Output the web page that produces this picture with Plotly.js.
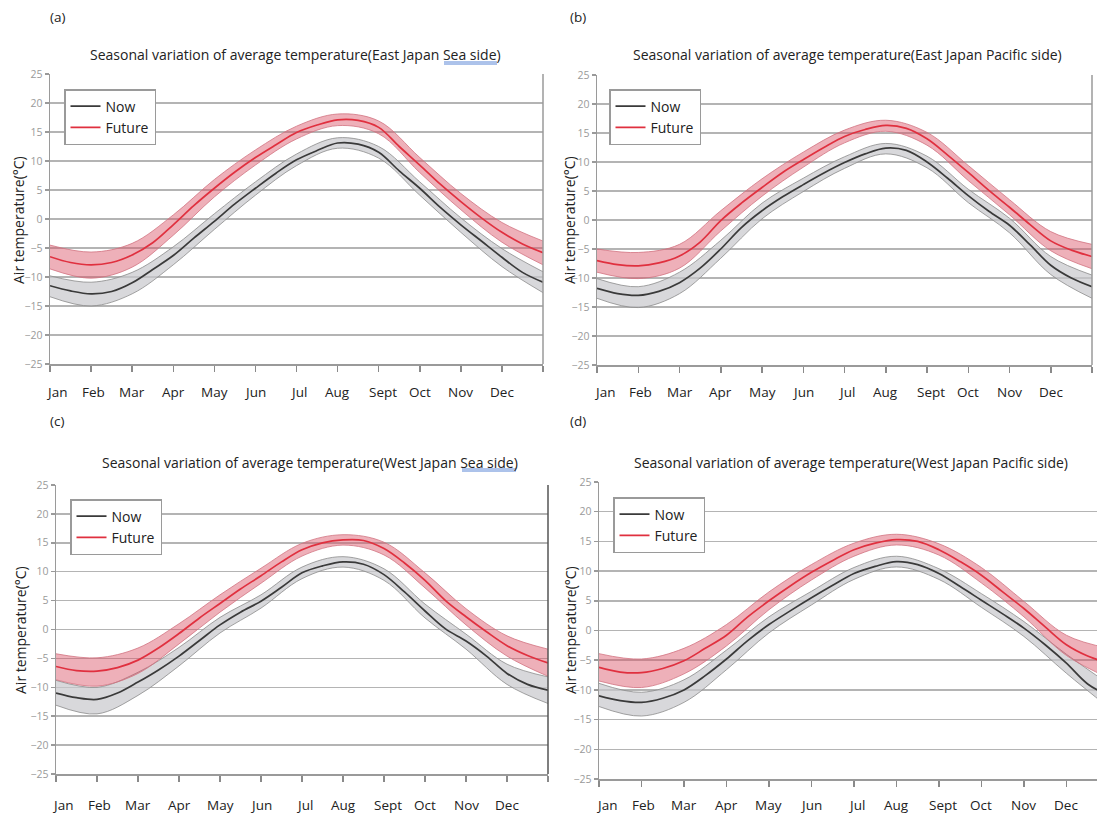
<!DOCTYPE html>
<html><head><meta charset="utf-8">
<script src="https://cdn.plot.ly/plotly-3.0.1.min.js"></script>
<style>html,body{margin:0;padding:0;background:#fff}#chart{width:1097px;height:816px}</style>
</head><body><div id="chart"></div>
<script>
// ---- data ----
const months = ['Jan','Feb','Mar','Apr','May','Jun','Jul','Aug','Sept','Oct','Nov','Dec'];
const monthLabelPos = [0.17,1.05,2,3,4,5,6.05,7,8.1,9,10,11];
const xHalf = [0,0.5,1,1.5,2,2.5,3,3.5,4,4.5,5,5.5,6,6.5,7,7.5,8,8.5,9,9.5,10,10.5,11,11.5,12];
const xMonth = [0,1,2,3,4,5,6,7,8,9,10,11,12];
const yTicks = [-25,-20,-15,-10,-5,0,5,10,15,20,25];

const titles = [
  'Seasonal variation of average temperature(East Japan Sea side)',
  'Seasonal variation of average temperature(East Japan Pacific side)',
  'Seasonal variation of average temperature(West Japan Sea side)',
  'Seasonal variation of average temperature(West Japan Pacific side)'
];
const panelLabels = ['(a)','(b)','(c)','(d)'];
const seriesNames = ['Now','Future'];

// (a) East Japan Sea side
const aNowMean = [-11.5,-12.4,-12.9,-12.5,-11.0,-8.7,-6.3,-3.3,-0.4,2.6,5.3,7.9,10.2,11.8,13.1,12.9,11.5,8.3,5.3,2.0,-1.0,-3.8,-6.6,-9.2,-10.9];
const aNowHi   = [-9.8,-10.9,-9.2,-4.8,0.9,6.4,11.2,14.0,12.5,6.4,0.2,-5.1,-9.1];
const aNowLo   = [-13.4,-15.0,-12.9,-7.9,-1.8,4.1,9.2,12.2,10.5,4.1,-2.3,-8.2,-12.7];
const aFutMean = [-6.5,-7.5,-7.9,-7.5,-6.2,-4.1,-1.0,2.3,5.3,8.1,10.6,12.8,14.9,16.2,17.1,17.0,15.8,12.5,9.3,6.0,3.0,0.2,-2.3,-4.3,-5.8];
const aFutHi   = [-4.5,-5.7,-4.2,0.7,6.8,11.9,16.0,18.1,16.9,10.6,4.4,-0.6,-3.8];
const aFutLo   = [-8.6,-10.2,-8.3,-2.8,3.8,9.3,13.8,16.1,14.7,8.0,1.6,-4.0,-7.9];

// (b) East Japan Pacific side
const bNowMean = [-11.8,-12.7,-13.0,-12.3,-10.8,-8.3,-5.0,-1.3,1.6,4.0,6.1,8.1,9.9,11.4,12.4,12.0,10.0,7.2,4.2,1.5,-0.9,-4.3,-7.8,-10.0,-11.5];
const bNowHi   = [-10.1,-11.5,-9.0,-3.5,2.9,7.2,10.9,13.2,11.0,5.3,0.3,-6.3,-9.5];
const bNowLo   = [-13.5,-15.1,-12.7,-6.6,0.2,4.9,8.9,11.4,9.0,3.0,-2.2,-9.4,-13.5];
const bFutMean = [-7.0,-7.7,-7.9,-7.4,-6.2,-3.8,-0.1,2.9,5.6,8.2,10.4,12.5,14.4,15.6,16.3,15.8,14.0,11.2,8.2,5.1,2.2,-0.8,-3.6,-5.2,-6.3];
const bFutHi   = [-5.0,-5.6,-4.2,1.6,7.1,11.7,15.5,17.2,15.1,9.4,3.5,-2.0,-4.2];
const bFutLo   = [-9.0,-10.1,-8.3,-1.9,4.1,9.1,13.3,15.3,12.9,6.8,0.9,-5.3,-8.4];

// (c) West Japan Sea side
const cNowMean = [-11.0,-11.8,-12.1,-11.0,-9.1,-7.0,-4.6,-1.9,0.8,3.0,4.9,7.3,9.8,11.0,11.7,11.3,9.5,6.5,3.2,0.1,-2.0,-4.6,-7.6,-9.5,-10.5];
const cNowHi   = [-8.8,-10.0,-7.4,-3.1,2.1,6.0,10.8,12.6,10.5,4.4,-0.8,-6.0,-8.2];
const cNowLo   = [-13.1,-14.6,-11.4,-6.3,-0.6,3.7,8.8,10.8,8.5,2.0,-3.4,-9.5,-12.8];
const cFutMean = [-6.4,-7.1,-7.2,-6.6,-5.3,-3.2,-0.7,2.0,4.5,7.0,9.3,11.7,13.8,15.0,15.5,15.4,14.0,11.5,8.5,5.0,2.2,-0.4,-2.8,-4.5,-5.8];
const cFutHi   = [-4.2,-4.9,-3.2,1.0,6.0,10.6,14.9,16.4,15.1,9.8,3.6,-1.1,-3.4];
const cFutLo   = [-8.7,-9.8,-7.6,-2.5,3.0,8.0,12.7,14.6,12.9,7.2,0.8,-4.6,-8.1];

// (d) West Japan Pacific side
const dNowMean = [-11.0,-11.8,-12.1,-11.4,-10.0,-7.6,-4.8,-1.7,1.0,3.3,5.5,7.6,9.6,10.8,11.6,11.1,9.6,7.4,5.1,2.8,0.4,-2.4,-5.5,-9.0,-11.0];
const dNowHi   = [-8.9,-10.4,-8.3,-3.3,2.3,6.6,10.6,12.5,10.4,6.2,1.5,-4.0,-9.0];
const dNowLo   = [-12.8,-14.4,-12.1,-6.6,-0.4,4.3,8.6,10.7,8.6,3.9,-1.0,-7.2,-13.0];
const dFutMean = [-6.2,-7.0,-7.1,-6.4,-5.1,-3.0,-0.8,2.3,5.0,7.5,9.8,11.8,13.6,14.7,15.3,15.0,13.6,11.6,9.3,6.5,3.7,0.6,-2.4,-4.3,-5.5];
const dFutHi   = [-3.9,-4.8,-3.0,1.0,6.5,11.1,14.7,16.2,14.6,10.6,4.9,-0.8,-3.0];
const dFutLo   = [-8.5,-9.6,-7.3,-2.6,3.5,8.5,12.5,14.4,12.7,8.0,2.3,-4.2,-8.0];

// ---- layout geometry (pixels) ----
const W = 1097, H = 816;
const px = v => v / W, py = v => 1 - v / H;
const panels = [
  {data:[aNowMean,aNowHi,aNowLo,aFutMean,aFutHi,aFutLo], x0:50, x1:543, y0:74, y1:364, xr:12, leg:[64,89],
   lab:[57,17], tit:[295,55], ytit:[19,220], mon:392, dark:[{v:-20,c:'#3a3a3a'}], rb:'#9a9a9a'},
  {data:[bNowMean,bNowHi,bNowLo,bFutMean,bFutHi,bFutLo], x0:597, x1:1092, y0:75, y1:365, xr:12, leg:[609,89],
   lab:[578,17], tit:[847,55], ytit:[570,220], mon:392, dark:[{v:10,c:'#6e6e6e'}], rb:'#9a9a9a'},
  {data:[cNowMean,cNowHi,cNowLo,cFutMean,cFutHi,cFutLo], x0:56, x1:548, y0:485, y1:774, xr:12, leg:[70,499],
   lab:[57,421], tit:[310,462], ytit:[20,630], mon:805, dark:[{v:-20,c:'#3a3a3a'}], rb:'#555'},
  {data:[dNowMean,dNowHi,dNowLo,dFutMean,dFutHi,dFutLo], x0:599, x1:1097, y0:482, y1:779, xr:11.72, leg:[613,497],
   lab:[578,421], tit:[851,462], ytit:[570,630], mon:805, dark:[], rb:null}
];

const FONT = 'Open Sans, Liberation Sans, sans-serif';
const traces = [], annotations = [], shapes = [];
const layout = {
  width: W, height: H, margin:{l:0,r:0,t:0,b:0},
  paper_bgcolor:'#fff', plot_bgcolor:'#fff', font:{family:FONT, color:'#222'},
  showlegend:true, annotations, shapes
};

panels.forEach((p, i) => {
  const n = i === 0 ? '' : String(i+1);
  const xa = 'x'+n, ya = 'y'+n, legKey = 'legend'+n;
  const [nowM, nowH, nowL, futM, futH, futL] = p.data;
  const band = (lo, hi, edge, fill) => {
    traces.push({x:xMonth, y:lo, xaxis:xa, yaxis:ya, type:'scatter', mode:'lines',
      line:{color:edge, width:0.8, shape:'spline'}, showlegend:false, hoverinfo:'skip'});
    traces.push({x:xMonth, y:hi, xaxis:xa, yaxis:ya, type:'scatter', mode:'lines', fill:'tonexty',
      fillcolor:fill, line:{color:edge, width:0.8, shape:'spline'}, showlegend:false, hoverinfo:'skip'});
  };
  band(nowL, nowH, '#8c8c8c', 'rgba(200,200,204,0.7)');
  band(futL, futH, '#d27381', 'rgba(218,80,100,0.45)');
  traces.push({x:xHalf, y:nowM, xaxis:xa, yaxis:ya, type:'scatter', mode:'lines', name:seriesNames[0],
    legend:legKey, line:{color:'#3a3a3a', width:1.7, shape:'spline'}});
  traces.push({x:xHalf, y:futM, xaxis:xa, yaxis:ya, type:'scatter', mode:'lines', name:seriesNames[1],
    legend:legKey, line:{color:'#e0303f', width:1.7, shape:'spline'}});

  layout['xaxis'+n] = {domain:[px(p.x0), px(p.x1)], anchor:ya, range:[0, p.xr], fixedrange:true,
    tickvals:xMonth, showticklabels:false, ticks:'outside', ticklen:6, tickwidth:1.5, tickcolor:'#8a8a8a',
    showgrid:false, zeroline:false, showline:true, linecolor:'#9a9a9a', linewidth:1.5};
  layout['yaxis'+n] = {domain:[py(p.y1), py(p.y0)], anchor:xa, range:[-25,25], fixedrange:true,
    tickvals:yTicks, ticks:'outside', ticklen:4, tickwidth:1.5, tickcolor:'#9a9a9a',
    tickfont:{size:10.5, color:'#9a9a9a', family:FONT},
    showgrid:true, gridcolor:'#b4b4b4', gridwidth:1.5, zeroline:false,
    showline:true, linecolor:'#9a9a9a', linewidth:1.5};
  layout[legKey] = {x:px(p.leg[0]), y:py(p.leg[1]), xanchor:'left', yanchor:'top', traceorder:'normal',
    bgcolor:'#fff', bordercolor:'#9a9a9a', borderwidth:1.5, font:{size:14, color:'#222', family:FONT},
    itemwidth:30, tracegroupgap:0};

  months.forEach((m, k) => {
    if (monthLabelPos[k] <= p.xr) annotations.push({text:m, x:monthLabelPos[k], xref:xa, y:py(p.mon), yref:'paper',
      showarrow:false, xanchor:'center', yanchor:'middle', font:{size:13.5, color:'#222', family:FONT}});
  });
  annotations.push({text:panelLabels[i], x:px(p.lab[0]), y:py(p.lab[1]), xref:'paper', yref:'paper',
    showarrow:false, xanchor:'center', yanchor:'middle', font:{size:13.5, color:'#222', family:FONT}});
  annotations.push({text:titles[i], x:px(p.tit[0]), y:py(p.tit[1]), xref:'paper', yref:'paper',
    showarrow:false, xanchor:'center', yanchor:'middle', font:{size:14, color:'#222', family:FONT}});
  annotations.push({text:'Air temperature(°C)', x:px(p.ytit[0]), y:py(p.ytit[1]), xref:'paper', yref:'paper',
    textangle:-90, showarrow:false, xanchor:'center', yanchor:'middle', font:{size:14, color:'#222', family:FONT}});

  p.dark.forEach(d => shapes.push({type:'line', xref:xa+' domain', x0:0, x1:1, yref:ya, y0:d.v, y1:d.v,
    line:{color:d.c, width:1.5}, layer:'below'}));
  if (p.rb) shapes.push({type:'line', xref:xa+' domain', x0:1, x1:1, yref:ya+' domain', y0:0, y1:1,
    line:{color:p.rb, width:1.5}});
});

// spell-check style underline under "Sea side" in titles (a) and (c)
[[444,497,62],[462,516,469]].forEach(u => {
  [0,2].forEach(o => shapes.push({type:'line', xref:'paper', yref:'paper', x0:px(u[0]), x1:px(u[1]),
    y0:py(u[2]+o), y1:py(u[2]+o), line:{color:'#5b86d6', width:1}}));
});

Plotly.newPlot('chart', traces, layout, {displayModeBar:false, staticPlot:true});
</script></body></html>
